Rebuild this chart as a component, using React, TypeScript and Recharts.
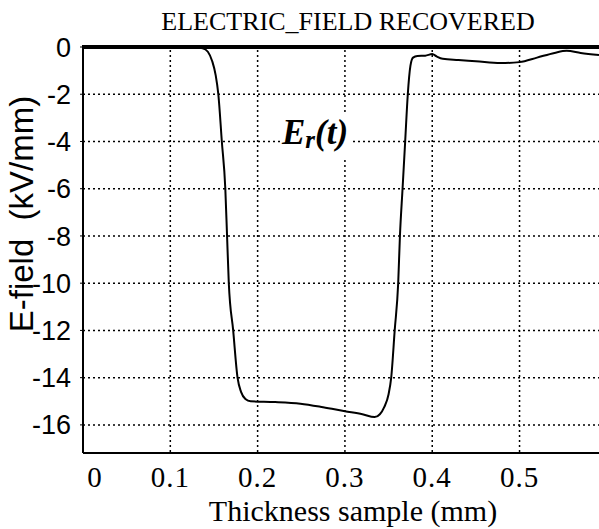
import React from 'react';
import { LineChart, Line, XAxis, YAxis, CartesianGrid, ReferenceLine } from 'recharts';

// thickness (mm) and recovered field (kV/mm)
const thickness = [
  0, 0.05, 0.1, 0.13, 0.137, 0.143, 0.148, 0.152, 0.155, 0.159, 0.163, 0.165, 0.167,
  0.172, 0.177, 0.181, 0.186, 0.192, 0.22, 0.249, 0.275, 0.3, 0.32, 0.334, 0.34,
  0.345, 0.35, 0.353, 0.357, 0.361, 0.363, 0.366, 0.369, 0.372, 0.375, 0.378, 0.383,
  0.392, 0.4, 0.405, 0.412, 0.43, 0.45, 0.478, 0.5, 0.52, 0.54, 0.554, 0.57, 0.591,
];
const field = [
  0, 0, 0, -0.02, -0.05, -0.2, -0.6, -1.2, -2.0, -4.0, -6.0, -8.0, -10.0,
  -12.0, -14.0, -14.6, -14.9, -15.0, -15.03, -15.1, -15.25, -15.42, -15.55, -15.67, -15.55,
  -15.25, -14.7, -14.0, -12.0, -10.0, -8.0, -6.0, -4.0, -2.0, -0.8, -0.45, -0.38,
  -0.37, -0.3, -0.4, -0.5, -0.55, -0.6, -0.68, -0.64, -0.45, -0.25, -0.16, -0.25, -0.34,
];
const xTicks = [0, 0.1, 0.2, 0.3, 0.4, 0.5];
const yTicks = [0, -2, -4, -6, -8, -10, -12, -14, -16];

const data = thickness.map((x, i) => ({ x, e: field[i] }));

const serif = '"Liberation Serif", "Times New Roman", serif';
const sans = '"Liberation Sans", Arial, sans-serif';

const XTick = (props: any) => {
  const { x, y, payload } = props;
  const dx = payload.value === 0 ? 12 : 0;
  return (
    <text x={x + dx} y={y} dy="0.71em" textAnchor="middle" fontFamily={serif} fontSize={29} letterSpacing={1} fill="#000">
      {payload.value}
    </text>
  );
};

export default function App() {
  return (
    <div style={{ position: 'absolute', left: 0, top: 0, width: 599, height: 529, background: '#fff' }}>
      <LineChart width={599} height={529} data={data} margin={{ top: 45, right: 0, bottom: 26, left: 0 }}>
        <CartesianGrid
          stroke="#000"
          strokeWidth={1.5}
          strokeDasharray="2 3"
          horizontalValues={yTicks.slice(1)}
          verticalValues={xTicks.slice(1)}
        />
        <XAxis
          dataKey="x"
          type="number"
          domain={[0, 0.591]}
          ticks={xTicks}
          allowDataOverflow
          height={50}
          tickLine={false}
          tickMargin={7}
          tick={<XTick />}
          axisLine={{ stroke: '#000', strokeWidth: 2 }}
        />
        <YAxis
          type="number"
          domain={[-17.19, 0.085]}
          ticks={yTicks}
          allowDataOverflow
          width={83}
          tickSize={3}
          tickMargin={9}
          tickLine={{ stroke: '#000', strokeWidth: 1 }}
          tick={{ fontFamily: sans, fontSize: 27, fill: '#000' }}
          axisLine={{ stroke: '#000', strokeWidth: 2 }}
        />
        <ReferenceLine y={0} stroke="#000" strokeWidth={4} />
        <Line
          dataKey="e"
          type="monotone"
          stroke="#000"
          strokeWidth={2}
          dot={false}
          isAnimationActive={false}
        />
      </LineChart>
      <div style={{ position: 'absolute', left: 0, width: 696, top: 7, textAlign: 'center', fontFamily: serif, fontSize: 26, lineHeight: '30px', color: '#000', whiteSpace: 'nowrap' }}>
        ELECTRIC_FIELD RECOVERED
      </div>
      <div style={{ position: 'absolute', left: 280, top: 113, fontFamily: serif, fontStyle: 'italic', fontWeight: 'bold', fontSize: 35, lineHeight: '40px', color: '#000', background: '#fff', padding: '0 2px' }}>
        E<sub style={{ fontSize: 25, verticalAlign: '-0.15em' }}>r</sub>(t)
      </div>
      <div style={{ position: 'absolute', left: 203, width: 300, top: 495, textAlign: 'center', fontFamily: serif, fontSize: 30, lineHeight: '32px', color: '#000', whiteSpace: 'nowrap' }}>
        Thickness sample (mm)
      </div>
      <div style={{ position: 'absolute', left: 22, top: 214, width: 0, height: 0 }}>
        <div style={{ position: 'absolute', left: -150, top: -19, width: 300, textAlign: 'center', transform: 'rotate(-90deg)', fontFamily: sans, fontSize: 33, lineHeight: '38px', color: '#000', whiteSpace: 'pre' }}>
          E-field  (kV/mm)
        </div>
      </div>
    </div>
  );
}
